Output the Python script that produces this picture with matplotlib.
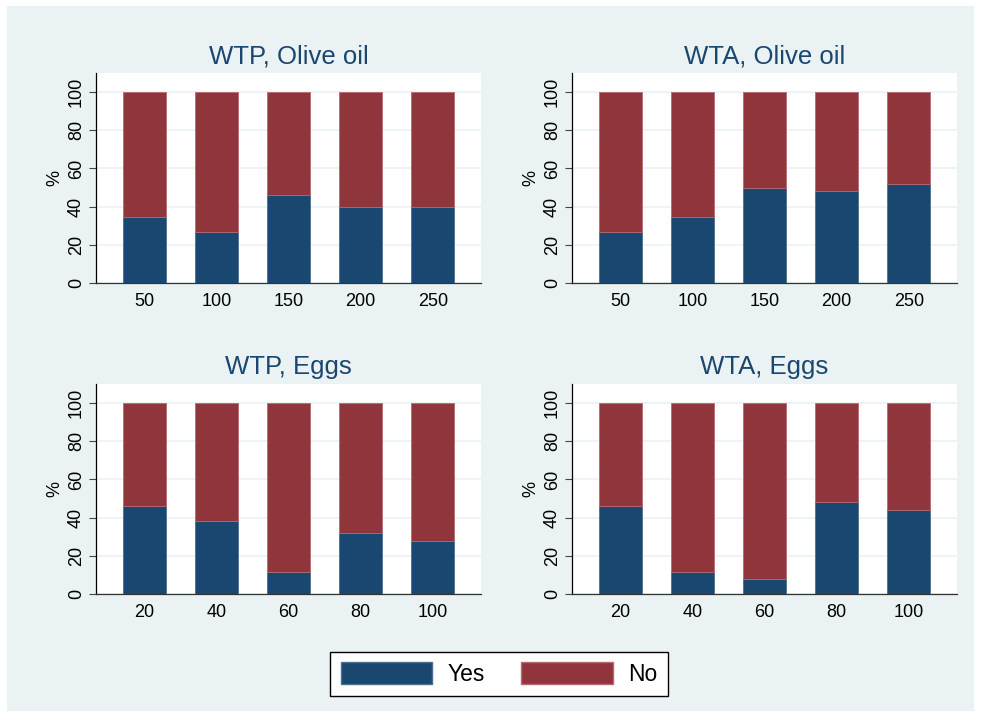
import numpy as np
import matplotlib
matplotlib.use("Agg")
import matplotlib.pyplot as plt
from matplotlib.patches import Rectangle, Patch

plt.rcParams['font.family'] = ['Liberation Sans', 'DejaVu Sans']

# data (% answering yes; no = 100 - yes)
olive_bids = ['50', '100', '150', '200', '250']
egg_bids = ['20', '40', '60', '80', '100']
wtp_olive_yes = [34.6, 26.9, 46.2, 40.0, 40.0]
wta_olive_yes = [26.9, 34.6, 50.0, 48.0, 52.0]
wtp_eggs_yes = [46.2, 38.5, 11.5, 32.0, 28.0]
wta_eggs_yes = [46.2, 11.5, 7.7, 48.0, 44.0]

titles = ['WTP, Olive oil', 'WTA, Olive oil', 'WTP, Eggs', 'WTA, Eggs']
labels = [olive_bids, olive_bids, egg_bids, egg_bids]
yes_vals = [wtp_olive_yes, wta_olive_yes, wtp_eggs_yes, wta_eggs_yes]

navy = '#1a476f'
maroon = '#90353b'
bg = '#eaf2f3'

fig = plt.figure(figsize=[9.81, 7.16], dpi=100)
fig.patch.set_facecolor('white')
fig.patches.append(Rectangle((7/981, 5/716), 967/981, 705/716, transform=fig.transFigure,
                             facecolor=bg, edgecolor='none', zorder=-10))

lefts = [96/981, 572/981]
bottoms = [(716-283)/716, (716-594)/716]
w = 385/981
h = 210/716

for k in range(4):
    ax = fig.add_axes([lefts[k % 2], bottoms[k // 2], w, h])
    yes = np.array(yes_vals[k])
    no = 100 - yes
    x = np.arange(len(yes))
    ax.bar(x, yes, width=0.6, color=navy, edgecolor='#4a6f90', linewidth=0.6, zorder=3)
    ax.bar(x, no, bottom=yes, width=0.6, color=maroon, edgecolor='#b56a70', linewidth=0.6, zorder=3)
    ax.set_xlim(-0.67, 4.67)
    ax.set_ylim(0, 110)
    ax.set_xticks(x)
    ax.set_xticklabels(labels[k], fontsize=13)
    ax.tick_params(axis='x', length=0, pad=7)
    ax.set_yticks([0, 20, 40, 60, 80, 100])
    ax.set_yticklabels(['0', '20', '40', '60', '80', '100'], rotation=90, va='center', fontsize=13)
    ax.tick_params(axis='y', length=5, width=0.8, color='#444444', pad=3)
    ax.grid(axis='y', color=bg, linewidth=1.2, zorder=0)
    ax.set_axisbelow(True)
    for s in ['top', 'right']:
        ax.spines[s].set_visible(False)
    ax.spines['left'].set_linewidth(0.9)
    ax.spines['bottom'].set_linewidth(0.9)
    ax.spines['bottom'].set_color('#333333')
    ax.set_ylabel('%', fontsize=13, labelpad=3)
    ax.set_title(titles[k], fontsize=18.5, color=navy, pad=7)

handles = [Patch(facecolor=navy, edgecolor='#4a6f90', label='Yes'),
           Patch(facecolor=maroon, edgecolor='#b56a70', label='No')]
leg = fig.legend(handles=handles, loc='center', bbox_to_anchor=(499/981, (716-674)/716),
                 ncol=2, fontsize=16.5, frameon=True, fancybox=False, framealpha=1,
                 handlelength=4.0, handleheight=1.05, columnspacing=1.6, handletextpad=0.65,
                 borderpad=0.45, borderaxespad=0)
leg.get_frame().set_edgecolor('black')
leg.get_frame().set_linewidth(1.0)

fig.savefig('out.png', dpi=100, facecolor=fig.get_facecolor())
